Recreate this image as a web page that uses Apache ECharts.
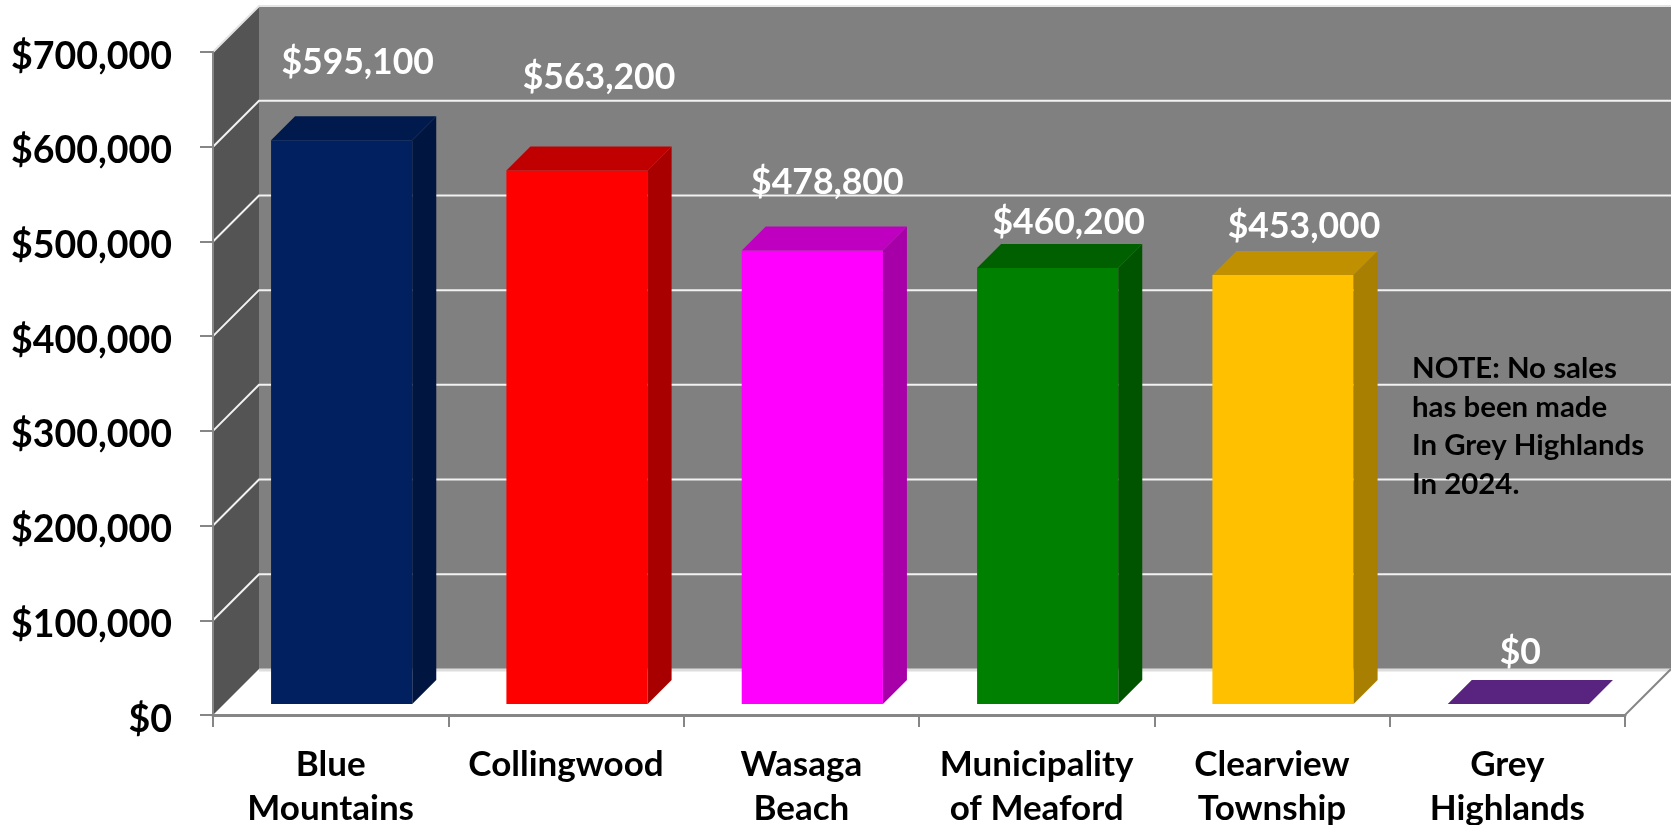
<!DOCTYPE html>
<html>
<head>
<meta charset="utf-8">
<title>Average sale price by municipality</title>
<script src="https://cdn.jsdelivr.net/npm/echarts@6/dist/echarts.min.js"></script>
<style>
  html, body { margin: 0; padding: 0; background: #fff; }
  #chart { width: 1671px; height: 825px; }
</style>
</head>
<body>
<div id="chart"></div>
<script>
const categories = ['Blue\nMountains', 'Collingwood', 'Wasaga\nBeach', 'Municipality\nof Meaford', 'Clearview\nTownship', 'Grey\nHighlands'];
const prices = [595100, 563200, 478800, 460200, 453000, 0];
const yTicks = [0, 100000, 200000, 300000, 400000, 500000, 600000, 700000];
const noteLines = ['NOTE: No sales', 'has been made', 'In Grey Highlands', 'In 2024.'];

// Face colours per column: front, side, top
const frontColors = ['#002060', '#FF0000', '#FF00FF', '#008000', '#FFC000', '#582480'];
const sideColors = ['#001540', '#A80000', '#A800A8', '#005400', '#A87F00', '#582480'];
const topColors = ['#001A4D', '#C00000', '#C000C0', '#006000', '#C09000', '#582480'];

// Hand placed value labels, offset from the middle of each column's front top edge
const labelShift = [[16, -78], [22, -93], [15, -68], [21, -46], [21, -48], [2, -51]];

// Oblique projection depths, in pixels
const WALL_DEPTH_X = 46;
const WALL_DEPTH_Y = 46;
const BAR_DEPTH = 24;
const BAR_INSET_X = 11;
const BAR_INSET_Y = 11;
const BAR_RATIO = 0.6;
const FONT = 'Lato, "Open Sans", sans-serif';

const money = v => '$' + v.toLocaleString('en-US');
const poly = (points, fill) => ({ type: 'polygon', shape: { points }, style: { fill, stroke: null } });

// Back wall, side wall and floor, then one gridline per y tick
function renderWalls(params, api) {
  const v = api.value(0);
  const band = api.size([1, 0])[0];
  const left = api.coord([0, 0])[0] - band / 2;
  const right = api.coord([categories.length - 1, 0])[0] + band / 2;
  const dx = WALL_DEPTH_X, dy = WALL_DEPTH_Y;
  const y0 = api.coord([0, 0])[1];
  const yMax = api.coord([0, yTicks[yTicks.length - 1]])[1];
  const y = api.coord([0, v])[1];
  const children = [];
  if (params.dataIndex === 0) {
    children.push(poly([[left + dx, yMax - dy], [right + dx, yMax - dy], [right + dx, y0 - dy], [left + dx, y0 - dy]], '#808080'));
    children.push(poly([[left, yMax], [left + dx, yMax - dy], [left + dx, y0 - dy], [left, y0]], '#545454'));
    children.push({
      type: 'line',
      shape: { x1: left + dx, y1: y0 - dy + 1, x2: right + dx, y2: y0 - dy + 1 },
      style: { stroke: '#DDDDDD', lineWidth: 3 }
    });
    children.push({
      type: 'line',
      shape: { x1: right, y1: y0, x2: right + dx, y2: y0 - dy },
      style: { stroke: '#868686', lineWidth: 2 }
    });
  } else {
    const isTop = v === yTicks[yTicks.length - 1];
    children.push({
      type: 'polyline',
      shape: { points: [[left, y], [left + dx, y - dy], [right + dx, y - dy]] },
      style: { stroke: isTop ? '#E4E4E4' : '#F2F2F2', lineWidth: 2, fill: null }
    });
  }
  return { type: 'group', children };
}

// Oblique column: front, side and top faces, with its value label
function renderBar(params, api) {
  const i = api.value(0);
  const v = api.value(1);
  const band = api.size([1, 0])[0];
  const base = api.coord([i, 0]);
  const top = api.coord([i, v]);
  const w = band * BAR_RATIO;
  const x0 = base[0] - w / 2 + BAR_INSET_X;
  const x1 = x0 + w;
  const yb = base[1] - BAR_INSET_Y;
  const yt = top[1] - BAR_INSET_Y;
  const d = BAR_DEPTH;
  const children = [];
  if (v > 0) {
    children.push(poly([[x0, yb], [x1, yb], [x1, yt], [x0, yt]], frontColors[i]));
    children.push(poly([[x1, yb], [x1 + d, yb - d], [x1 + d, yt - d], [x1, yt]], sideColors[i]));
  }
  children.push(poly([[x0, yt], [x1, yt], [x1 + d, yt - d], [x0 + d, yt - d]], topColors[i]));
  children.push({
    type: 'text',
    z2: 5,
    style: {
      x: (x0 + x1) / 2 + labelShift[i][0],
      y: yt + labelShift[i][1],
      text: money(v),
      fill: '#FFFFFF',
      fontFamily: FONT,
      fontWeight: 'bold',
      fontSize: 35.5,
      align: 'center',
      verticalAlign: 'middle'
    }
  });
  return { type: 'group', children };
}

const chart = echarts.init(document.getElementById('chart'), null, { renderer: 'canvas' });
chart.setOption({
  animation: false,
  backgroundColor: '#FFFFFF',
  grid: { left: 213, right: 46, top: 52, bottom: 110, outerBoundsMode: 'none' },
  xAxis: {
    type: 'category',
    data: categories,
    z: 4,
    axisLine: { lineStyle: { color: '#868686', width: 3 } },
    axisTick: { show: true, length: 12, alignWithLabel: false, lineStyle: { color: '#868686', width: 2 } },
    axisLabel: {
      interval: 0,
      margin: 28,
      color: '#000000',
      fontFamily: FONT,
      fontWeight: 'bold',
      fontSize: 35,
      lineHeight: 44
    }
  },
  yAxis: {
    type: 'value',
    min: 0,
    max: 700000,
    interval: 100000,
    z: 4,
    splitLine: { show: false },
    axisLine: { show: true, lineStyle: { color: '#868686', width: 2 } },
    axisTick: { show: true, length: 13, lineStyle: { color: '#868686', width: 2 } },
    axisLabel: {
      margin: 41,
      verticalAlign: 'top',
      lineHeight: 9,
      color: '#000000',
      fontFamily: FONT,
      fontWeight: 'bold',
      fontSize: 37.5,
      formatter: money
    }
  },
  graphic: noteLines.map((line, i) => ({
    type: 'text',
    left: 1412,
    top: 354 + i * 38.6,
    z: 10,
    style: { text: line, fill: '#000000', fontFamily: FONT, fontWeight: 'bold', fontSize: 29.4 }
  })),
  series: [
    {
      type: 'custom',
      name: 'walls',
      z: 1,
      silent: true,
      renderItem: renderWalls,
      encode: { y: 0 },
      data: yTicks.map(v => [v])
    },
    {
      type: 'custom',
      name: 'Average price',
      z: 2,
      silent: true,
      renderItem: renderBar,
      encode: { x: 0, y: 1 },
      data: prices.map((v, i) => [i, v])
    }
  ]
});
</script>
</body>
</html>
